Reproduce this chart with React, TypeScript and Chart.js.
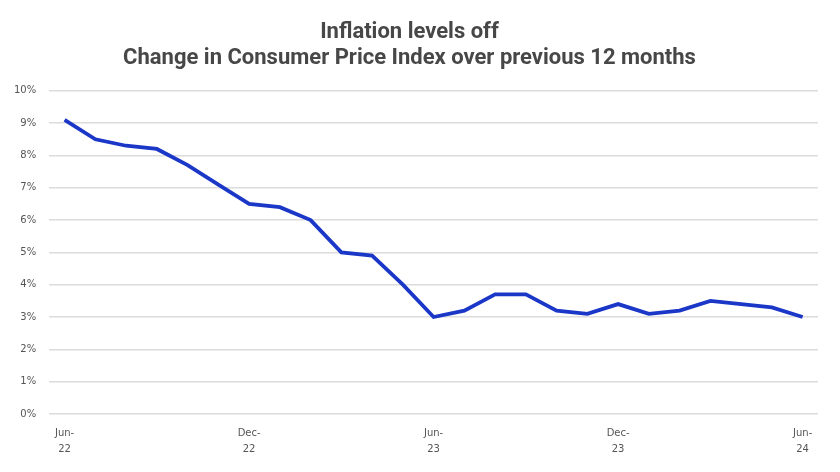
import React, { useEffect, useRef } from "react";
import { Chart, registerables } from "chart.js";

Chart.register(...registerables);

const months = [
  "Jun-22", "Jul-22", "Aug-22", "Sep-22", "Oct-22", "Nov-22", "Dec-22",
  "Jan-23", "Feb-23", "Mar-23", "Apr-23", "May-23", "Jun-23",
  "Jul-23", "Aug-23", "Sep-23", "Oct-23", "Nov-23", "Dec-23",
  "Jan-24", "Feb-24", "Mar-24", "Apr-24", "May-24", "Jun-24",
];

const cpiChange = [
  9.1, 8.5, 8.3, 8.2, 7.7, 7.1, 6.5,
  6.4, 6.0, 5.0, 4.9, 4.0, 3.0,
  3.2, 3.7, 3.7, 3.2, 3.1, 3.4,
  3.1, 3.2, 3.5, 3.4, 3.3, 3.0,
];

const shownTickLabels = ["Jun-22", "Dec-22", "Jun-23", "Dec-23", "Jun-24"];

const titleText = "Inflation levels off";
const subtitleText = "Change in Consumer Price Index over previous 12 months";

export default function App() {
  const ref = useRef<HTMLCanvasElement | null>(null);

  useEffect(() => {
    if (!ref.current) return;
    const chart = new Chart(ref.current, {
      type: "line",
      data: {
        labels: months,
        datasets: [
          {
            data: cpiChange,
            borderColor: "#1b37c8",
            borderWidth: 3.8,
            pointRadius: 0,
            tension: 0,
            fill: false,
          },
        ],
      },
      options: {
        responsive: false,
        animation: false,
        layout: { padding: { left: 1, right: 22, bottom: 4 } },
        plugins: {
          legend: { display: false },
          tooltip: { enabled: false },
          title: {
            display: true,
            text: titleText,
            color: "#474747",
            font: { family: "Roboto", size: 22, weight: "bold" },
            padding: { top: 19, bottom: 0 },
          },
          subtitle: {
            display: true,
            text: subtitleText,
            color: "#474747",
            font: { family: "Roboto", size: 22, weight: "bold" },
            padding: { top: 0, bottom: 19 },
          },
        },
        scales: {
          x: {
            offset: true,
            grid: { display: false, drawTicks: false },
            border: { display: false },
            ticks: {
              autoSkip: false,
              maxRotation: 0,
              color: "#555",
              font: { family: "DejaVu Sans", size: 10, lineHeight: 1.6 },
              padding: 11,
              callback: function (_v: any, i: number) {
                const lab = months[i];
                if (shownTickLabels.includes(lab)) {
                  const [m, y] = lab.split("-");
                  return [m + "-", y];
                }
                return "";
              },
            },
          },
          y: {
            min: 0,
            max: 10,
            border: { display: false },
            grid: { color: "#dcdcdc", lineWidth: 1.5, drawTicks: false },
            ticks: {
              stepSize: 1,
              color: "#555",
              font: { family: "DejaVu Sans", size: 10 },
              padding: 13,
              callback: (v: any) => `${v}%`,
            },
          },
        },
      },
    });
    return () => chart.destroy();
  }, []);

  return (
    <div style={{ position: "absolute", left: 0, top: 0, width: 840, height: 472, background: "#fff" }}>
      <canvas ref={ref} width={840} height={472} style={{ display: "block" }} />
    </div>
  );
}
